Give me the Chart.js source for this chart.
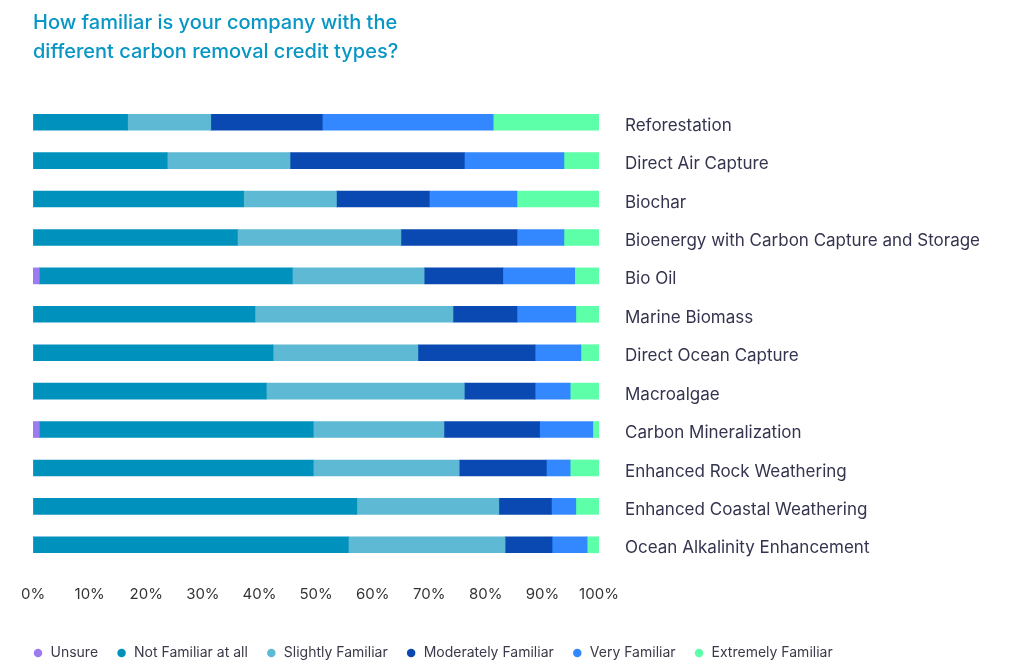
<!DOCTYPE html>
<html>
<head>
<meta charset="utf-8">
<title>Carbon removal credit familiarity</title>
<script src="https://cdn.jsdelivr.net/npm/chart.js@4.4.1/dist/chart.umd.min.js"></script>
<style>
  html, body { margin: 0; padding: 0; background: #ffffff; }
  #wrap { width: 1024px; height: 664px; position: relative; }
</style>
</head>
<body>
<div id="wrap"><canvas id="chartFamiliar"></canvas></div>
<script>
// credit types, top to bottom
const creditTypes = ['Reforestation', 'Direct Air Capture', 'Biochar', 'Bioenergy with Carbon Capture and Storage',
    'Bio Oil', 'Marine Biomass', 'Direct Ocean Capture', 'Macroalgae', 'Carbon Mineralization',
    'Enhanced Rock Weathering', 'Enhanced Coastal Weathering', 'Ocean Alkalinity Enhancement'];

// share of answers (%) per level
const unsure        = [0, 0, 0, 0, 1.1, 0, 0, 0, 1.1, 0, 0, 0];
const notFamiliar   = [16.7, 23.7, 37.2, 36.1, 44.7, 39.2, 42.4, 41.2, 48.4, 49.5, 57.2, 55.7];
const slightly      = [14.7, 21.7, 16.4, 28.9, 23.3, 35.0, 25.6, 35.0, 23.1, 25.8, 25.1, 27.7];
const moderately    = [19.7, 30.8, 16.4, 20.5, 13.9, 11.3, 20.7, 12.5, 16.9, 15.4, 9.3, 8.3];
const veryFamiliar  = [30.2, 17.6, 15.5, 8.3, 12.7, 10.4, 8.1, 6.2, 9.4, 4.2, 4.3, 6.2];
const extremely     = [18.7, 6.2, 14.5, 6.2, 4.3, 4.1, 3.2, 5.1, 1.1, 5.1, 4.1, 2.1];

const seriesNames = ['Unsure', 'Not Familiar at all', 'Slightly Familiar', 'Moderately Familiar', 'Very Familiar', 'Extremely Familiar'];
const seriesValues = [unsure, notFamiliar, slightly, moderately, veryFamiliar, extremely];
const seriesColors = ['#9d7cf2', '#0092bd', '#5db9d4', '#0a49b1', '#3388ff', '#5dffa9'];

const titleLines = ['How familiar is your company with the', 'different carbon removal credit types?'];

// legend starts a little left of the plot edge in the original
const legendShift = {
    id: 'legendShift',
    afterLayout(chart) {
        if (chart.legend) {
            chart.legend.left -= 18.5;
            chart.legend.right -= 18.5;
        }
    }
};

const ctx = document.getElementById('chartFamiliar');
new Chart(ctx, {
    type: 'bar',
    data: {
        labels: creditTypes,
        datasets: seriesNames.map((name, i) => ({
            label: name,
            data: seriesValues[i],
            backgroundColor: seriesColors[i],
            borderWidth: 0,
            barThickness: 16
        }))
    },
    options: {
        indexAxis: 'y',
        responsive: true,
        maintainAspectRatio: false,
        animation: false,
        layout: { padding: { left: 33, right: 0, top: 0, bottom: -6 } },
        plugins: {
            title: {
                display: true,
                text: titleLines,
                align: 'start',
                color: '#0896c4',
                font: { family: 'Inter', size: 20, weight: '500', lineHeight: 1.45 },
                padding: { top: 8, bottom: 37 }
            },
            legend: {
                position: 'bottom',
                align: 'start',
                labels: {
                    usePointStyle: true,
                    pointStyle: 'circle',
                    boxWidth: 11,
                    boxHeight: 6,
                    padding: 18,
                    color: '#3a3a4a',
                    font: { family: 'Inter', size: 14 }
                }
            },
            tooltip: { enabled: false }
        },
        scales: {
            x: {
                stacked: true,
                min: 0,
                max: 100,
                grid: { display: false, drawTicks: false },
                border: { display: false },
                ticks: {
                    stepSize: 10,
                    padding: 21,
                    color: '#333333',
                    font: { family: 'Inter', size: 15 },
                    callback: v => v + '%'
                },
                afterFit: s => { s.height = 64; }
            },
            y: {
                stacked: true,
                position: 'right',
                grid: { display: false, drawTicks: false },
                border: { display: false },
                ticks: {
                    padding: 26,
                    labelOffset: 3.5,
                    color: '#34344f',
                    font: { family: 'Inter', size: 17 }
                },
                afterFit: s => { s.width = 425; }
            }
        }
    },
    plugins: [legendShift]
});
</script>
</body>
</html>
